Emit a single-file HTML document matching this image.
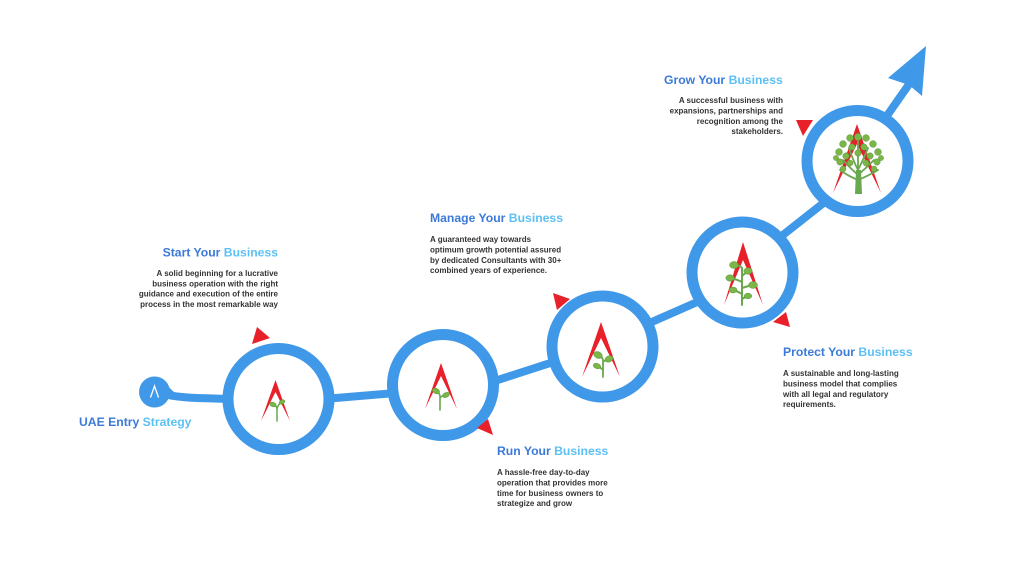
<!DOCTYPE html>
<html><head><meta charset="utf-8"><style>
html,body{margin:0;padding:0;background:#fff;}
svg{display:block;}
text{font-family:"Liberation Sans",sans-serif;}
.h{font-weight:bold;font-size:12.2px;}
.d{fill:#3b7ad8;}
.l{fill:#5cc0f4;}
.b{font-weight:bold;font-size:8px;fill:#333;}
.lf{fill:#7ab648;stroke:#5a9636;stroke-width:.5;}
.st{stroke:#6aa84f;fill:none;stroke-linecap:round;}
</style></head><body>
<svg width="1024" height="576" viewBox="0 0 1024 576" xmlns="http://www.w3.org/2000/svg">
<rect width="1024" height="576" fill="#fff"/>
<g stroke="#3f98e8" stroke-width="8" fill="none" stroke-linecap="round">
  <path d="M156 392 C178 399 195 398 280 400"/>
  <path d="M300 401 L420 391"/>
  <path d="M470 389 L575 355"/>
  <path d="M620 336 L720 292"/>
  <path d="M760 253 L840 190"/>
  <path d="M870 140 L912 80"/>
</g>
<polygon points="926,46 888,78 909,85 922,96" fill="#3f98e8"/>
<!-- small circle -->
<circle cx="154.5" cy="392" r="15.5" fill="#3f98e8"/>
<path d="M168 386 Q174 393 180 396 L166 399 Z" fill="#3f98e8"/>
<polyline points="150.5,397.5 154.5,386 158.5,397.5" fill="none" stroke="#fff" stroke-width="1.3"/>
<!-- big circles -->
<g fill="#fff" stroke="#3f98e8" stroke-width="11">
  <circle cx="278.5" cy="399" r="50.5"/>
  <circle cx="443" cy="385" r="50.5"/>
  <circle cx="602.5" cy="346.5" r="50.5"/>
  <circle cx="742.5" cy="272.5" r="50.5"/>
  <circle cx="857.5" cy="161" r="50.5"/>
</g>
<!-- red pointers -->
<g fill="#e8202a">
  <polygon points="252,344 257,327 270,338"/>
  <polygon points="477,428 488,419 493,435"/>
  <polygon points="553,293 570,299 557,310"/>
  <polygon points="773,322 786,312 790,327"/>
  <polygon points="796,120 813,120 803,136"/>
</g>
<!-- A logos -->
<g fill="#e8202a">
  <polygon points="275.5,380 290,421 275.5,392 261,421"/>
  <polygon points="441,363 457,409 441,376 425,409"/>
  <polygon points="601,322 620,377 601,338 582,377"/>
  <polygon points="743,242 763,305 743,260 724,305"/>
  <polygon points="857,124 881,193 857,144 833,193"/>
</g>
<!-- plant 1 -->
<path class="st" stroke-width="1.5" d="M277 421 L277 410 Q277 405 273 404 M277 409 Q278 404 282 402"/>
<ellipse class="lf" cx="273" cy="404.5" rx="3.2" ry="2.2" transform="rotate(20 273 404.5)"/>
<ellipse class="lf" cx="282" cy="402" rx="3" ry="2" transform="rotate(-30 282 402)"/>
<!-- plant 2 -->
<path class="st" stroke-width="1.6" d="M440 410 L440 396 Q439 392 436 391 M440 398 Q442 395 446 395"/>
<ellipse class="lf" cx="436" cy="391" rx="3.8" ry="2.6" transform="rotate(25 436 391)"/>
<ellipse class="lf" cx="446" cy="395" rx="3.6" ry="2.4" transform="rotate(-25 446 395)"/>
<!-- plant 3 -->
<path class="st" stroke-width="1.8" d="M603 377 L603 360 Q602 356 598 355 M603 362 Q606 359 609 359 M603 370 Q600 367 597 366"/>
<ellipse class="lf" cx="598" cy="355" rx="4.5" ry="3.2" transform="rotate(25 598 355)"/>
<ellipse class="lf" cx="609" cy="359" rx="4.2" ry="3" transform="rotate(-25 609 359)"/>
<ellipse class="lf" cx="597" cy="366" rx="3.8" ry="2.6" transform="rotate(20 597 366)"/>
<!-- plant 4 -->
<path class="st" stroke-width="2" d="M742 305 L742 268 Q740 265 734 265 M742 276 Q745 273 748 272 M742 282 Q736 279 730 278 M742 288 Q748 286 753 285 M742 294 Q737 291 733 290 M742 299 Q745 297 748 296"/>
<ellipse class="lf" cx="734" cy="265" rx="4.5" ry="3.5"/>
<ellipse class="lf" cx="748" cy="271" rx="4.2" ry="3.2"/>
<ellipse class="lf" cx="730" cy="278" rx="4.2" ry="3.2"/>
<ellipse class="lf" cx="753" cy="285" rx="4.5" ry="3.4"/>
<ellipse class="lf" cx="733" cy="290" rx="4" ry="3"/>
<ellipse class="lf" cx="748" cy="296" rx="3.8" ry="2.8"/>
<!-- tree 5 -->
<path d="M855 194 L856 170 L861 170 L862 194 Z" fill="#6aa84f"/>
<path class="st" stroke-width="1.8" d="M858 175 Q850 168 843 160 M858 175 Q866 168 874 160 M858 170 Q852 158 849 148 M858 170 Q864 158 868 148 M858 168 L858 140 M858 180 Q848 176 840 170 M858 180 Q868 176 878 170"/>
<g class="lf">
  <circle cx="858" cy="137" r="3.6"/>
  <circle cx="850" cy="138" r="3.4"/>
  <circle cx="866" cy="138" r="3.4"/>
  <circle cx="843" cy="144" r="3.4"/>
  <circle cx="873" cy="144" r="3.4"/>
  <circle cx="839" cy="152" r="3.4"/>
  <circle cx="878" cy="152" r="3.4"/>
  <circle cx="852" cy="147" r="3.2"/>
  <circle cx="864" cy="147" r="3.2"/>
  <circle cx="846" cy="156" r="3.2"/>
  <circle cx="870" cy="156" r="3.2"/>
  <circle cx="858" cy="153" r="3.2"/>
  <circle cx="840" cy="162" r="3.2"/>
  <circle cx="877" cy="162" r="3.2"/>
  <circle cx="850" cy="163" r="3"/>
  <circle cx="866" cy="163" r="3"/>
  <circle cx="843" cy="169" r="3"/>
  <circle cx="874" cy="169" r="3"/>
  <circle cx="881" cy="158" r="2.6"/>
  <circle cx="836" cy="158" r="2.6"/>
</g>
<!-- headings -->
<text class="h" x="278" y="256.5" text-anchor="end"><tspan class="d">Start Your </tspan><tspan class="l">Business</tspan></text>
<text class="h" x="430" y="222"><tspan class="d">Manage Your </tspan><tspan class="l">Business</tspan></text>
<text class="h" x="664" y="84"><tspan class="d">Grow Your </tspan><tspan class="l">Business</tspan></text>
<text class="h" x="783" y="356"><tspan class="d">Protect Your </tspan><tspan class="l">Business</tspan></text>
<text class="h" x="497" y="455"><tspan class="d">Run Your </tspan><tspan class="l">Business</tspan></text>
<text class="h" x="79" y="426"><tspan class="d">UAE Entry </tspan><tspan class="l">Strategy</tspan></text>
<!-- body -->
<g class="b" text-anchor="end">
  <text x="278" y="276">A solid beginning for a lucrative</text>
  <text x="278" y="286.3">business operation with the right</text>
  <text x="278" y="296.6">guidance and execution of the entire</text>
  <text x="278" y="307">process in the most remarkable way</text>
</g>
<g class="b">
  <text x="430" y="242">A guaranteed way towards</text>
  <text x="430" y="252.5">optimum growth potential assured</text>
  <text x="430" y="263">by dedicated Consultants with 30+</text>
  <text x="430" y="273">combined years of experience.</text>
</g>
<g class="b" text-anchor="end">
  <text x="783" y="103">A successful business with</text>
  <text x="783" y="113.5">expansions, partnerships and</text>
  <text x="783" y="124">recognition among the</text>
  <text x="783" y="134">stakeholders.</text>
</g>
<g class="b">
  <text x="783" y="376">A sustainable and long-lasting</text>
  <text x="783" y="386.5">business model that complies</text>
  <text x="783" y="397">with all legal and regulatory</text>
  <text x="783" y="407">requirements.</text>
</g>
<g class="b">
  <text x="497" y="475">A hassle-free day-to-day</text>
  <text x="497" y="485.5">operation that provides more</text>
  <text x="497" y="496">time for business owners to</text>
  <text x="497" y="506">strategize and grow</text>
</g>
</svg>
</body></html>
